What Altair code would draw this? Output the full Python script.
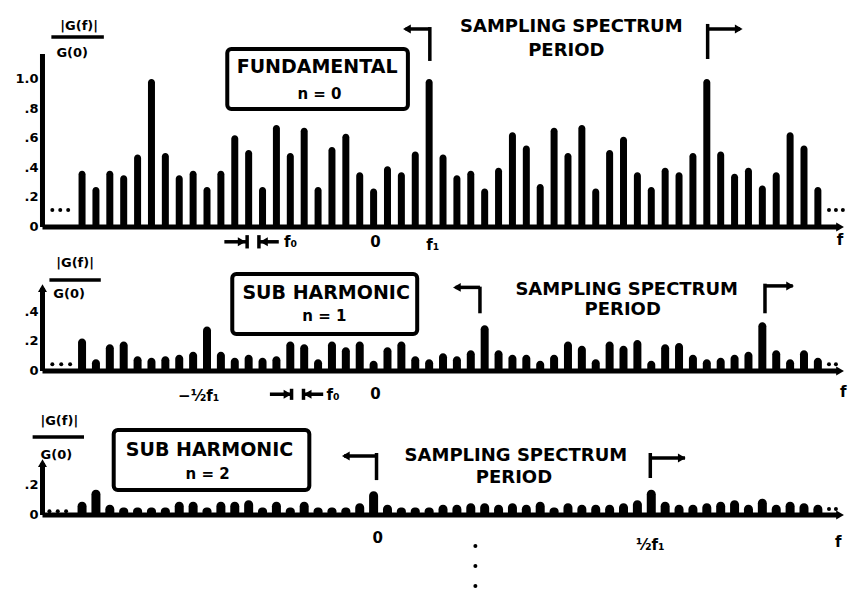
import altair as alt
import pandas as pd

# Relative line amplitudes |G(f)|/G(0), one per spectral line, left to right
fundamental = [0.38, 0.27, 0.38, 0.35, 0.49, 1.00, 0.50, 0.35, 0.38, 0.27,
               0.38, 0.62, 0.52, 0.27, 0.69, 0.50, 0.67, 0.27, 0.54, 0.63,
               0.37, 0.26, 0.41, 0.37, 0.51, 1.00, 0.49, 0.35, 0.38, 0.26,
               0.40, 0.64, 0.55, 0.29, 0.67, 0.50, 0.69, 0.26, 0.52, 0.61,
               0.37, 0.27, 0.40, 0.37, 0.50, 1.00, 0.51, 0.36, 0.40, 0.28,
               0.37, 0.64, 0.55, 0.27]

sub_harmonic_1 = [0.22, 0.08, 0.18, 0.20, 0.10, 0.09, 0.10, 0.11, 0.13, 0.30,
                  0.13, 0.09, 0.11, 0.09, 0.10, 0.20, 0.18, 0.08, 0.20, 0.16,
                  0.20, 0.07, 0.16, 0.20, 0.10, 0.08, 0.12, 0.10, 0.14, 0.31,
                  0.14, 0.11, 0.11, 0.07, 0.11, 0.20, 0.17, 0.08, 0.20, 0.17,
                  0.21, 0.07, 0.18, 0.19, 0.11, 0.08, 0.09, 0.11, 0.13, 0.33,
                  0.14, 0.08, 0.14, 0.09]

sub_harmonic_2 = [0.09, 0.17, 0.07, 0.05, 0.05, 0.05, 0.05, 0.09, 0.09, 0.05,
                  0.09, 0.09, 0.10, 0.05, 0.09, 0.05, 0.09, 0.05, 0.05, 0.05,
                  0.08, 0.16, 0.07, 0.05, 0.05, 0.05, 0.07, 0.07, 0.08, 0.08,
                  0.07, 0.08, 0.07, 0.09, 0.05, 0.08, 0.07, 0.07, 0.07, 0.08,
                  0.10, 0.17, 0.09, 0.07, 0.07, 0.08, 0.09, 0.10, 0.07, 0.11,
                  0.07, 0.09, 0.08, 0.07]

panel_boxes = ["FUNDAMENTAL", "SUB HARMONIC", "SUB HARMONIC"]
panel_orders = ["n = 0", "n = 1", "n = 2"]
y_tick_labels = [["0", ".2", ".4", ".6", ".8", "1.0"], ["0", ".2", ".4"], ["0", ".2"]]
y_tick_values = [[0, 0.2, 0.4, 0.6, 0.8, 1.0], [0, 0.2, 0.4], [0, 0.2]]

FONT = "DejaVu Sans"
W = 853
X_DOMAIN = [-5.55, 55.17]   # spectral line index across the page
AX = -2.85                  # ordinate axis position (line index units)


def xenc(field="x"):
    return alt.X(f"{field}:Q", scale=alt.Scale(domain=X_DOMAIN, nice=False, zero=False), axis=None)


def yenc(dom, field="y"):
    return alt.Y(f"{field}:Q", scale=alt.Scale(domain=dom, nice=False, zero=False), axis=None)


def texts(rows, dom, size, align="center"):
    df = pd.DataFrame(rows, columns=["x", "y", "t"])
    return alt.Chart(df).mark_text(font=FONT, fontWeight="bold", fontSize=size, align=align,
                                   baseline="middle", color="black").encode(
        x=xenc(), y=yenc(dom), text="t:N")


def segments(rows, dom, width):
    df = pd.DataFrame(rows, columns=["x", "x2", "y", "y2"])
    return alt.Chart(df).mark_rule(color="black", strokeWidth=width).encode(
        x=xenc(), x2="x2:Q", y=yenc(dom), y2="y2:Q")


def heads(rows, dom, size=80):
    df = pd.DataFrame(rows, columns=["x", "y", "s"])
    return alt.Chart(df).mark_point(filled=True, color="black", opacity=1, size=size).encode(
        x=xenc(), y=yenc(dom), shape=alt.Shape("s:N", scale=None))


def dots(rows, dom, size=16):
    df = pd.DataFrame(rows, columns=["x", "y"])
    return alt.Chart(df).mark_circle(color="black", opacity=1, size=size).encode(
        x=xenc(), y=yenc(dom))


def panel(i, values, dom, height, bar_w, ann):
    bars_df = pd.DataFrame({"x": list(range(len(values))), "y": values})
    bars = alt.Chart(bars_df).mark_bar(
        color="black", size=bar_w,
        cornerRadiusTopLeft=bar_w / 2, cornerRadiusTopRight=bar_w / 2,
    ).encode(x=xenc(), y=yenc(dom), y2=alt.datum(0))

    bx0, bx1, by0, by1 = ann["box"]
    box = alt.Chart(pd.DataFrame({"x": [bx0], "x2": [bx1], "y": [by0], "y2": [by1]})).mark_rect(
        fillOpacity=0, stroke="black", strokeWidth=4, cornerRadius=4
    ).encode(x=xenc(), x2="x2:Q", y=yenc(dom), y2="y2:Q")

    ticks = [(-3.13, v, t) for v, t in zip(y_tick_values[i], y_tick_labels[i])]

    layers = [
        segments([(AX, AX, 0, ann["axis_top"]), (AX, 54.45, 0, 0)], dom, 5),
        segments(ann["thin"], dom, 3.5),
        bars,
        box,
        heads(ann["heads"], dom),
        dots(ann["dots"], dom),
        texts(ticks, dom, 13, align="right"),
        texts(ann["header"], dom, 13),
        texts([(ann["box_text"][0], ann["box_text"][1], panel_boxes[i])], dom, 19),
        texts([(ann["order_text"][0], ann["order_text"][1], panel_orders[i])], dom, 15),
        texts(ann["period"], dom, 18),
        texts(ann["below"], dom, 15),
    ]
    return alt.layer(*layers).properties(width=W, height=height)


p1 = panel(0, fundamental, [-0.1554, 1.5338], 250, 7, {
    "axis_top": 1.169,
    "box": (10.46, 23.47, 1.203, 0.797),
    "box_text": (16.93, 1.081),
    "order_text": (17.1, 0.899),
    "thin": [
        (-2.21, 1.57, 1.284, 1.284),                 # fraction bar of the ordinate title
        (25.05, 25.05, 1.122, 1.351), (23.3, 25.05, 1.338, 1.338),
        (45.06, 45.06, 1.135, 1.372), (45.06, 47.4, 1.338, 1.338),
        (11.89, 11.89, -0.055, -0.145), (10.25, 11.89, -0.10, -0.10),
        (12.74, 12.74, -0.055, -0.145), (12.74, 14.17, -0.10, -0.10),
    ],
    "heads": [(54.6, 0, "triangle-right"), (23.4, 1.338, "triangle-left"),
              (47.3, 1.338, "triangle-right"), (11.5, -0.10, "triangle-right"),
              (13.1, -0.10, "triangle-left")],
    "dots": [(-2.14, 0.115), (-1.57, 0.115), (-1.0, 0.115),
             (53.8, 0.115), (54.3, 0.115), (54.8, 0.115)],
    "header": [(-0.21, 1.358, "|G(f)|"), (-0.71, 1.176, "G(0)")],
    "period": [(35.24, 1.351, "SAMPLING SPECTRUM"), (34.88, 1.189, "PERIOD")],
    "below": [(21.14, -0.10, "0"), (25.27, -0.12, "f₁"), (15.02, -0.10, "f₀"),
              (54.6, -0.09, "f")],
})

p2 = panel(1, sub_harmonic_1, [-0.1959, 0.8176], 150, 8, {
    "axis_top": 0.56,
    "box": (10.82, 24.14, 0.655, 0.25),
    "box_text": (17.58, 0.53),
    "order_text": (17.45, 0.37),
    "thin": [
        (-2.35, 1.35, 0.615, 0.615),
        (28.66, 28.66, 0.39, 0.57), (26.9, 28.66, 0.565, 0.565),
        (49.19, 49.19, 0.39, 0.59), (49.19, 51.19, 0.575, 0.575),
        (15.09, 15.09, -0.12, -0.195), (13.53, 15.09, -0.157, -0.157),
        (15.95, 15.95, -0.12, -0.195), (15.95, 17.37, -0.157, -0.157),
    ],
    "heads": [(54.6, 0, "triangle-right"), (27.0, 0.565, "triangle-left"),
              (51.0, 0.575, "triangle-right"), (14.8, -0.157, "triangle-right"),
              (16.25, -0.157, "triangle-left"), (AX, 0.56, "triangle-up")],
    "dots": [(-2.14, 0.045), (-1.5, 0.045), (-0.86, 0.045),
             (53.8, 0.045), (54.3, 0.045)],
    "header": [(-0.5, 0.73, "|G(f)|"), (-0.93, 0.52, "G(0)")],
    "period": [(39.23, 0.55, "SAMPLING SPECTRUM"), (38.94, 0.41, "PERIOD")],
    "below": [(8.4, -0.17, "−½f₁"), (21.14, -0.155, "0"), (18.08, -0.165, "f₀"),
              (54.82, -0.14, "f")],
})

p3 = panel(2, sub_harmonic_2, [-0.520, 0.777], 192, 9, {
    "axis_top": 0.35,
    "box": (2.28, 16.37, 0.574, 0.169),
    "box_text": (9.18, 0.44),
    "order_text": (9.04, 0.28),
    "thin": [
        (-3.56, 0.14, 0.527, 0.527),
        (21.21, 21.21, 0.236, 0.419), (18.87, 21.21, 0.399, 0.399),
        (40.93, 40.93, 0.25, 0.419), (40.93, 43.43, 0.385, 0.385),
    ],
    "heads": [(54.6, 0, "triangle-right"), (19.0, 0.399, "triangle-left"),
              (43.2, 0.385, "triangle-right"), (AX, 0.35, "triangle-up")],
    "dots": [(-2.35, 0.025), (-1.75, 0.025), (-1.15, 0.025),
             (53.8, 0.04), (54.3, 0.04),
             (28.33, -0.21), (28.33, -0.345), (28.33, -0.48)],
    "header": [(-1.64, 0.635, "|G(f)|"), (-1.85, 0.405, "G(0)")],
    "period": [(31.25, 0.40, "SAMPLING SPECTRUM"), (31.11, 0.25, "PERIOD")],
    "below": [(21.29, -0.155, "0"), (40.93, -0.2, "½f₁"), (54.46, -0.18, "f")],
})

chart = alt.vconcat(p1, p2, p3, spacing=0, bounds="flush").properties(
    padding=0
).configure_view(strokeWidth=0)

chart.save("out.html", embed_options={"renderer": "svg", "actions": False})
